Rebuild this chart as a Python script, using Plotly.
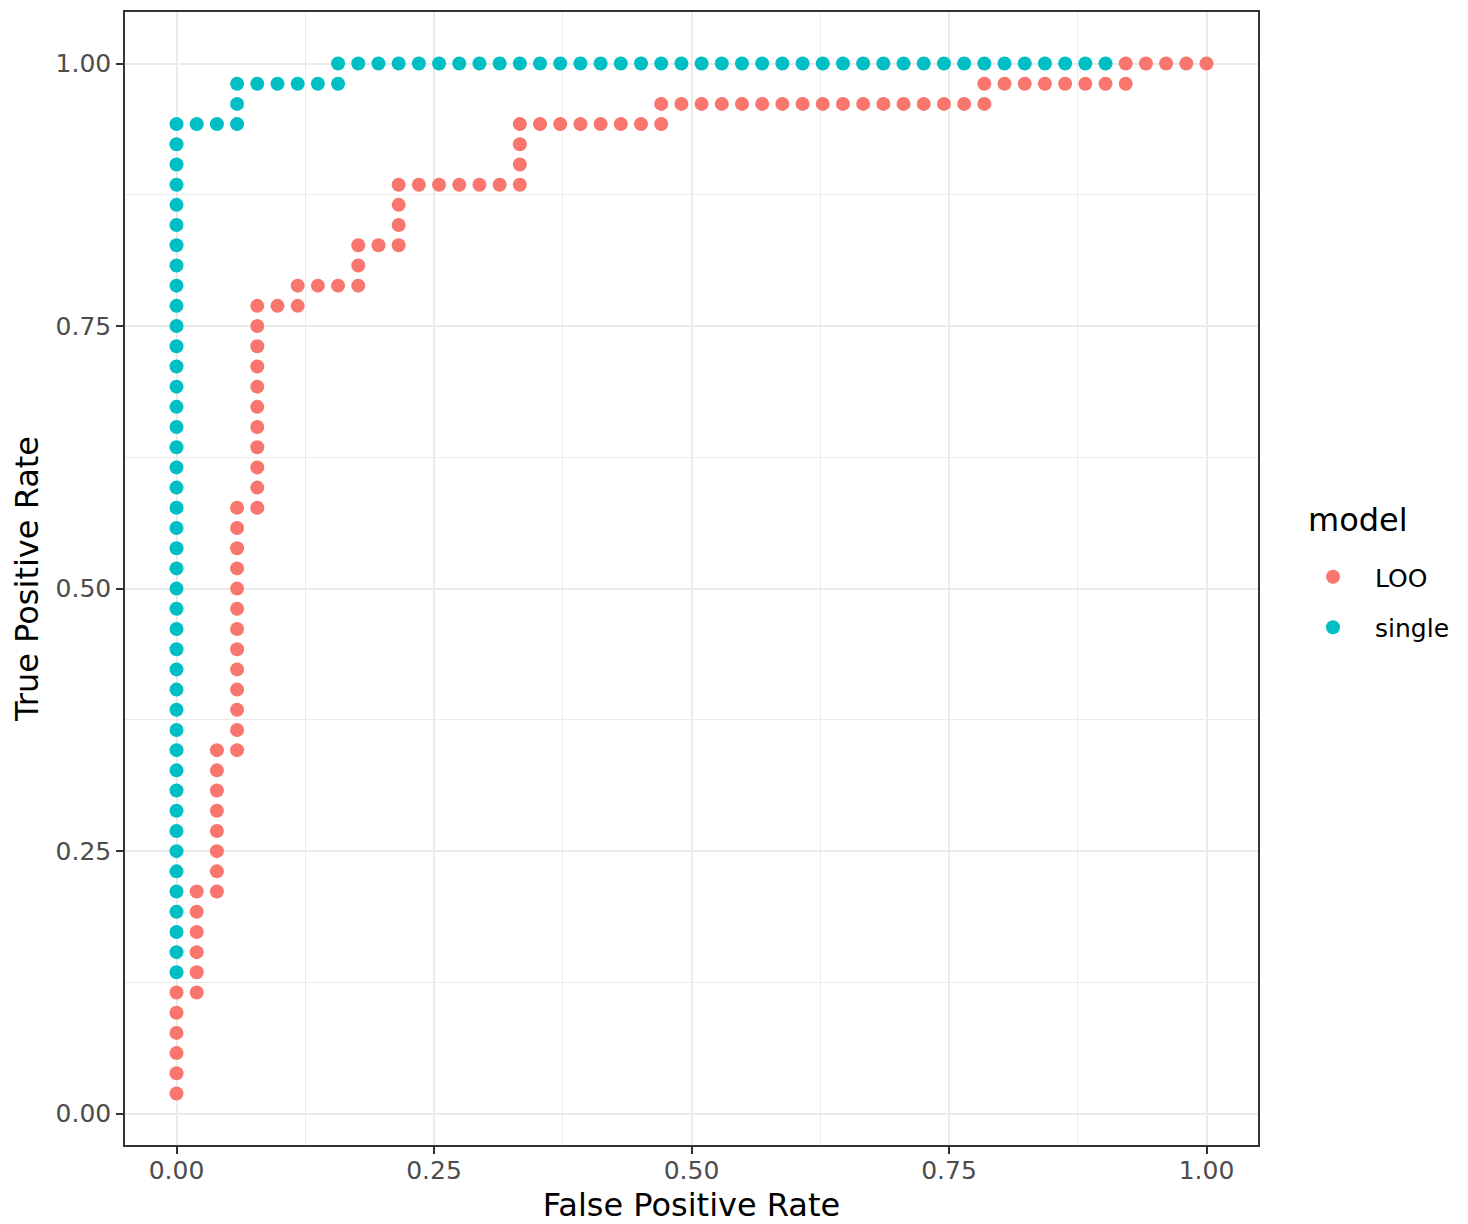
import plotly.graph_objects as go

N_NEG = 51  # negatives (false positive denominator)
N_POS = 52  # positives (true positive denominator)

# LOO model: counts of false positives / true positives at each threshold
loo_fp = [0, 0, 0, 0, 0, 0,
          1, 1, 1, 1, 1, 1,
          2, 2, 2, 2, 2, 2, 2, 2,
          3, 3, 3, 3, 3, 3, 3, 3, 3, 3, 3, 3, 3,
          4, 4, 4, 4, 4, 4, 4, 4, 4, 4, 4,
          5, 6, 6, 7, 8, 9, 9, 9, 10,
          11, 11, 11, 11, 12, 13, 14, 15, 16,
          17, 17, 17, 17, 18, 19, 20, 21, 22, 23,
          24, 24, 25, 26, 27, 28, 29, 30, 31, 32, 33, 34, 35, 36, 37, 38, 39,
          40, 40, 41, 42, 43, 44, 45, 46,
          47, 47, 48, 49, 50, 51]
loo_tp = [1, 2, 3, 4, 5, 6,
          6, 7, 8, 9, 10, 11,
          11, 12, 13, 14, 15, 16, 17, 18,
          18, 19, 20, 21, 22, 23, 24, 25, 26, 27, 28, 29, 30,
          30, 31, 32, 33, 34, 35, 36, 37, 38, 39, 40,
          40, 40, 41, 41, 41, 41, 42, 43, 43,
          43, 44, 45, 46, 46, 46, 46, 46, 46,
          46, 47, 48, 49, 49, 49, 49, 49, 49, 49,
          49, 50, 50, 50, 50, 50, 50, 50, 50, 50, 50, 50, 50, 50, 50, 50, 50,
          50, 51, 51, 51, 51, 51, 51, 51,
          51, 52, 52, 52, 52, 52]

# single model
single_fp = [0, 0, 0, 0, 0, 0, 0, 0, 0, 0, 0, 0, 0, 0, 0, 0, 0, 0, 0, 0, 0, 0,
             0, 0, 0, 0, 0, 0, 0, 0, 0, 0, 0, 0, 0, 0, 0, 0, 0, 0, 0, 0, 0,
             1, 2, 3, 3, 3, 4, 5, 6, 7, 8, 8,
             9, 10, 11, 12, 13, 14, 15, 16, 17, 18, 19, 20, 21, 22, 23, 24, 25,
             26, 27, 28, 29, 30, 31, 32, 33, 34, 35, 36, 37, 38, 39, 40, 41,
             42, 43, 44, 45, 46]
single_tp = [7, 8, 9, 10, 11, 12, 13, 14, 15, 16, 17, 18, 19, 20, 21, 22, 23,
             24, 25, 26, 27, 28, 29, 30, 31, 32, 33, 34, 35, 36, 37, 38, 39,
             40, 41, 42, 43, 44, 45, 46, 47, 48, 49,
             49, 49, 49, 50, 51, 51, 51, 51, 51, 51, 52,
             52, 52, 52, 52, 52, 52, 52, 52, 52, 52, 52, 52, 52, 52, 52, 52, 52,
             52, 52, 52, 52, 52, 52, 52, 52, 52, 52, 52, 52, 52, 52, 52, 52,
             52, 52, 52, 52, 52]

tick_vals = [0.0, 0.25, 0.5, 0.75, 1.0]
tick_text = ["0.00", "0.25", "0.50", "0.75", "1.00"]

loo_x = [v / N_NEG for v in loo_fp]
loo_y = [v / N_POS for v in loo_tp]
single_x = [v / N_NEG for v in single_fp]
single_y = [v / N_POS for v in single_tp]

FONT = "DejaVu Sans"
RED = "#F8766D"
CYAN = "#00BFC4"

fig = go.Figure()
fig.add_trace(go.Scatter(x=single_x, y=single_y, mode="markers", name="single",
                         legendrank=2, legendgroup="single",
                         marker=dict(color=CYAN, size=14, line=dict(width=0))))
fig.add_trace(go.Scatter(x=loo_x, y=loo_y, mode="markers", name="LOO",
                         legendrank=1, legendgroup="LOO",
                         marker=dict(color=RED, size=14, line=dict(width=0))))

allx = loo_x + single_x
ally = loo_y + single_y
xmin, xmax = min(allx), max(allx)
ymin, ymax = min(ally), max(ally)
xpad = 0.05 * (xmax - xmin)
ypad = 0.05 * (ymax - ymin)

axis_common = dict(
    tickvals=tick_vals, ticktext=tick_text,
    showgrid=True, gridcolor="#EBEBEB", gridwidth=2,
    minor=dict(dtick=0.125, tick0=0, showgrid=True, gridcolor="#EBEBEB", gridwidth=1, ticks=""),
    zeroline=False, automargin=True,
    showline=True, mirror=True, linecolor="#333333", linewidth=1.5,
    ticks="outside", ticklen=7, tickwidth=2, tickcolor="#333333",
    tickfont=dict(family=FONT, size=25, color="#4D4D4D"),
)

PANEL_W = 1133
fig.update_layout(
    width=1452, height=1216,
    paper_bgcolor="white", plot_bgcolor="white",
    margin=dict(l=117, r=202, t=4, b=79, autoexpand=False),
    font=dict(family=FONT),
    xaxis=dict(range=[xmin - xpad, xmax + xpad], ticklabelstandoff=-5,
               title=dict(text="False Positive Rate", font=dict(family=FONT, size=32, color="black"), standoff=19),
               **axis_common),
    yaxis=dict(range=[ymin - ypad, ymax + ypad],
               title=dict(text="True Positive Rate", font=dict(family=FONT, size=32, color="black"), standoff=8),
               **axis_common),
    legend=dict(x=(1291 - 125) / PANEL_W, xanchor="left",
                y=(1145 - 602) / PANEL_W, yanchor="middle",
                font=dict(family=FONT, size=25, color="black"),
                traceorder="grouped", tracegroupgap=15, itemwidth=74,
                bgcolor="rgba(0,0,0,0)"),
    annotations=[dict(text="model", xref="paper", yref="paper",
                      x=(1306 - 125) / PANEL_W, xanchor="left",
                      y=(1145 - 520) / PANEL_W, yanchor="middle",
                      showarrow=False, font=dict(family=FONT, size=32, color="black"))],
)

fig.write_html("out.html")
